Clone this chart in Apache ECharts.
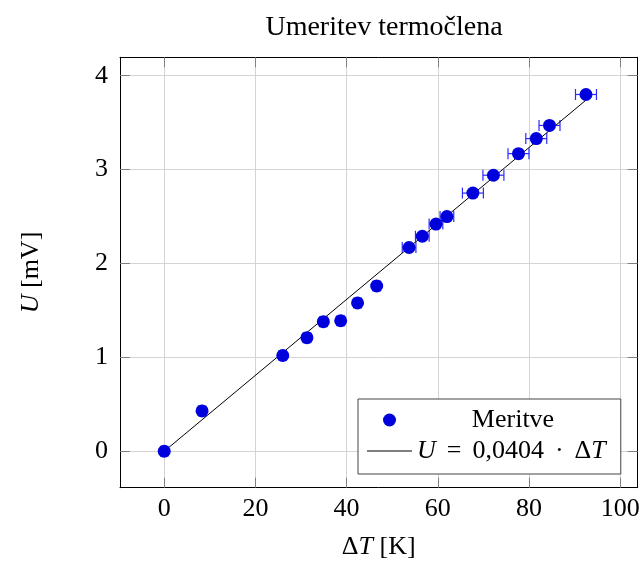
<!DOCTYPE html>
<html>
<head>
<meta charset="utf-8">
<script src="https://cdn.jsdelivr.net/npm/echarts@6.0.0/dist/echarts.min.js"></script>
<style>
  html, body { margin: 0; padding: 0; background: #fff; }
  #chart { width: 643px; height: 567px; }
</style>
</head>
<body>
<div id="chart"></div>
<script>
// measured points
var dT    = [0, 8.3, 26.0, 31.3, 34.9, 38.7, 42.4, 46.6, 53.7, 56.6, 59.6, 62.0, 67.7, 72.2, 77.7, 81.6, 84.5, 92.5];
var U     = [0, 0.43, 1.02, 1.21, 1.38, 1.39, 1.58, 1.76, 2.17, 2.29, 2.42, 2.50, 2.75, 2.94, 3.17, 3.33, 3.47, 3.80];
var dTerr = [0.8, 0.8, 0.8, 0.8, 0.8, 0.8, 0.8, 0.8, 1.5, 1.5, 1.5, 1.5, 2.3, 2.3, 2.3, 2.3, 2.3, 2.3];

// fit line endpoints
var fitX = [0, 92.5];
var fitU = [0, 3.74];

var xTicks = [0, 20, 40, 60, 80, 100];
var yTicks = [0, 1, 2, 3, 4];

var font = 'Liberation Serif';
var points = [];
var errs = [];
for (var i = 0; i < dT.length; i++) {
  points.push([dT[i], U[i]]);
  errs.push([dT[i], U[i], dTerr[i]]);
}
var fit = [];
for (var j = 0; j < fitX.length; j++) {
  fit.push([fitX[j], fitU[j]]);
}

var rich = {
  n: { fontFamily: font, fontSize: 26, color: '#000' },
  i: { fontFamily: font, fontSize: 26, color: '#000', fontStyle: 'italic' },
  o: { fontFamily: font, fontSize: 26, color: '#000', padding: [0, 11] },
  c: { fontFamily: font, fontSize: 26, color: '#000', width: 192, align: 'center' }
};

function frameAxis(pos, min, max, ticks, isX, main) {
  var ax = {
    type: 'value',
    position: pos,
    min: min,
    max: max,
    axisLine: { show: true, onZero: false, lineStyle: { color: '#000', width: 1 } },
    axisTick: { show: true, inside: true, length: 10, customValues: ticks,
                lineStyle: { color: '#808080', width: 1 } },
    axisLabel: { show: main, customValues: ticks, margin: isX ? 8 : 12,
                 fontFamily: font, fontSize: 26, color: '#000' },
    splitLine: { show: main, lineStyle: { color: '#d4d4d4', width: 1 } }
  };
  if (main) {
    ax.nameLocation = 'middle';
    ax.nameTextStyle = { rich: rich };
    if (isX) {
      ax.name = '{n|Δ}{i|T}{n| [K]}';
      ax.nameGap = 46;
    } else {
      ax.name = '{i|U}{n| [mV]}';
      ax.nameGap = 76;
    }
  }
  return ax;
}

var myChart = echarts.init(document.getElementById('chart'));

var option = {
  backgroundColor: '#fff',
  animation: false,
  title: {
    text: 'Umeritev termočlena',
    left: 379,
    top: 9,
    textAlign: 'center',
    textStyle: { fontFamily: font, fontSize: 28, fontWeight: 'normal', color: '#000' }
  },
  grid: { left: 120, right: 5.5, top: 57.3, bottom: 79.3 },
  xAxis: [
    frameAxis('bottom', -9.7, 103.8, xTicks, true, true),
    frameAxis('top', -9.7, 103.8, xTicks, true, false)
  ],
  yAxis: [
    frameAxis('left', -0.388, 4.196, yTicks, false, true),
    frameAxis('right', -0.388, 4.196, yTicks, false, false)
  ],
  legend: {
    orient: 'vertical',
    left: 358,
    top: 399,
    padding: [8, 15, 10, 9],
    itemGap: 5,
    itemWidth: 45,
    itemHeight: 13,
    itemStyle: { borderWidth: 0 },
    borderColor: '#444',
    borderWidth: 1,
    backgroundColor: '#fff',
    data: [
      { name: 'Meritve' },
      { name: 'fit', icon: 'path://M0,0H45V1H0Z', itemStyle: { color: '#000' } }
    ],
    formatter: function (name) {
      if (name === 'Meritve') return '{c|Meritve}';
      return '{i|U}{o|=}{n|0,0404}{o|·}{n|Δ}{i|T}';
    },
    textStyle: { rich: rich, fontFamily: font, fontSize: 26, color: '#000' }
  },
  series: [
    {
      name: 'errbars',
      type: 'custom',
      z: 1,
      data: errs,
      encode: { x: 0, y: 1 },
      renderItem: function (params, api) {
        var x = api.value(0), y = api.value(1), e = api.value(2);
        var a = api.coord([x - e, y]);
        var b = api.coord([x + e, y]);
        var cap = 5.5;
        var st = { stroke: '#2b2bff', lineWidth: 1.2 };
        return {
          type: 'group',
          children: [
            { type: 'line', shape: { x1: a[0], y1: a[1], x2: b[0], y2: b[1] }, style: st },
            { type: 'line', shape: { x1: a[0], y1: a[1] - cap, x2: a[0], y2: a[1] + cap }, style: st },
            { type: 'line', shape: { x1: b[0], y1: b[1] - cap, x2: b[0], y2: b[1] + cap }, style: st }
          ]
        };
      }
    },
    {
      name: 'fit',
      type: 'line',
      z: 2,
      data: fit,
      symbol: 'none',
      lineStyle: { color: '#000', width: 1 },
      itemStyle: { color: '#000' }
    },
    {
      name: 'Meritve',
      type: 'scatter',
      z: 3,
      data: points,
      symbol: 'circle',
      symbolSize: 13,
      itemStyle: { color: '#0000dd', opacity: 1 }
    }
  ]
};

myChart.setOption(option);
</script>
</body>
</html>
